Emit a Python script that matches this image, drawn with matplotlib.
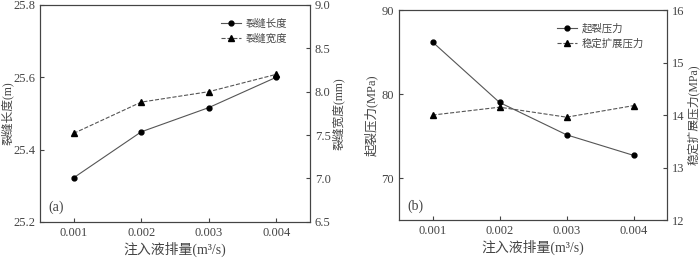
import matplotlib.pyplot as plt

plt.rcParams['font.family'] = ['Liberation Serif', 'Noto Sans CJK SC']
plt.rcParams['font.size'] = 9

grey = '#444444'
line_c = '#555555'

q = [0.001, 0.002, 0.003, 0.004]
crack_length = [25.322, 25.449, 25.516, 25.60]
crack_width = [7.52, 7.88, 8.00, 8.20]
init_pressure = [86.2, 79.0, 75.15, 72.7]
prop_pressure = [14.0, 14.15, 13.96, 14.18]
xticks = [0.001, 0.002, 0.003, 0.004]
xticklabels = ['0.001', '0.002', '0.003', '0.004']
xlabel = '注入液排量(m³/s)'


def style(ax):
    for s in ax.spines.values():
        s.set_color(grey)
    ax.tick_params(direction='in', colors=grey, labelcolor=grey, length=3, labelsize=9)


def legend(ax, handles):
    ax.legend(handles=handles, loc='upper right', bbox_to_anchor=(0.95, 0.98), frameon=False,
              handlelength=1.9, handletextpad=0.5, labelspacing=0.45, labelcolor=grey, fontsize=7.5)


fig = plt.figure(figsize=(7, 2.58), dpi=100)

# (a)
ax1 = fig.add_axes([0.057, 0.140, 0.386, 0.841])
ax2 = ax1.twinx()
l1, = ax1.plot(q, crack_length, '-o', color=line_c, lw=0.8, ms=3.5, mfc='black', mec='black', label='裂缝长度')
l2, = ax2.plot(q, crack_width, '--^', color=line_c, lw=0.8, ms=4.5, mfc='black', mec='black', label='裂缝宽度')
ax1.set_xlim(0.0005, 0.0045)
ax1.set_xticks(xticks)
ax1.set_xticklabels(xticklabels)
ax1.set_ylim(25.2, 25.8)
ax1.set_yticks([25.2, 25.4, 25.6, 25.8])
ax2.set_ylim(6.5, 9.0)
ax2.set_yticks([6.5, 7.0, 7.5, 8.0, 8.5, 9.0])
ax1.set_xlabel(xlabel, color=grey, labelpad=2, fontsize=10)
ax1.set_ylabel('裂缝长度(m)', color=grey, fontsize=8.5)
ax1.yaxis.set_label_coords(-0.095, 0.5)
ax2.set_ylabel('裂缝宽度(mm)', color=grey, fontsize=8.5)
ax2.yaxis.set_label_coords(1.081, 0.5)
ax1.text(0.03, 0.05, '(a)', transform=ax1.transAxes, color=grey, fontsize=10)
legend(ax1, [l1, l2])
style(ax1)
style(ax2)

# (b)
ax3 = fig.add_axes([0.570, 0.147, 0.383, 0.814])
ax4 = ax3.twinx()
l3, = ax3.plot(q, init_pressure, '-o', color=line_c, lw=0.8, ms=3.5, mfc='black', mec='black', label='起裂压力')
l4, = ax4.plot(q, prop_pressure, '--^', color=line_c, lw=0.8, ms=4.5, mfc='black', mec='black', label='稳定扩展压力')
ax3.set_xlim(0.0005, 0.0045)
ax3.set_xticks(xticks)
ax3.set_xticklabels(xticklabels)
ax3.set_ylim(65, 90)
ax3.set_yticks([70, 80, 90])
ax4.set_ylim(12, 16)
ax4.set_yticks([12, 13, 14, 15, 16])
ax3.set_xlabel(xlabel, color=grey, labelpad=2, fontsize=10)
ax3.set_ylabel('起裂压力(MPa)', color=grey, fontsize=9)
ax3.yaxis.set_label_coords(-0.078, 0.5)
ax4.set_ylabel('稳定扩展压力(MPa)', color=grey, fontsize=8.5)
ax4.yaxis.set_label_coords(1.074, 0.5)
ax3.text(0.03, 0.05, '(b)', transform=ax3.transAxes, color=grey, fontsize=10)
legend(ax3, [l3, l4])
style(ax3)
style(ax4)

fig.savefig('out.png', dpi=100)
